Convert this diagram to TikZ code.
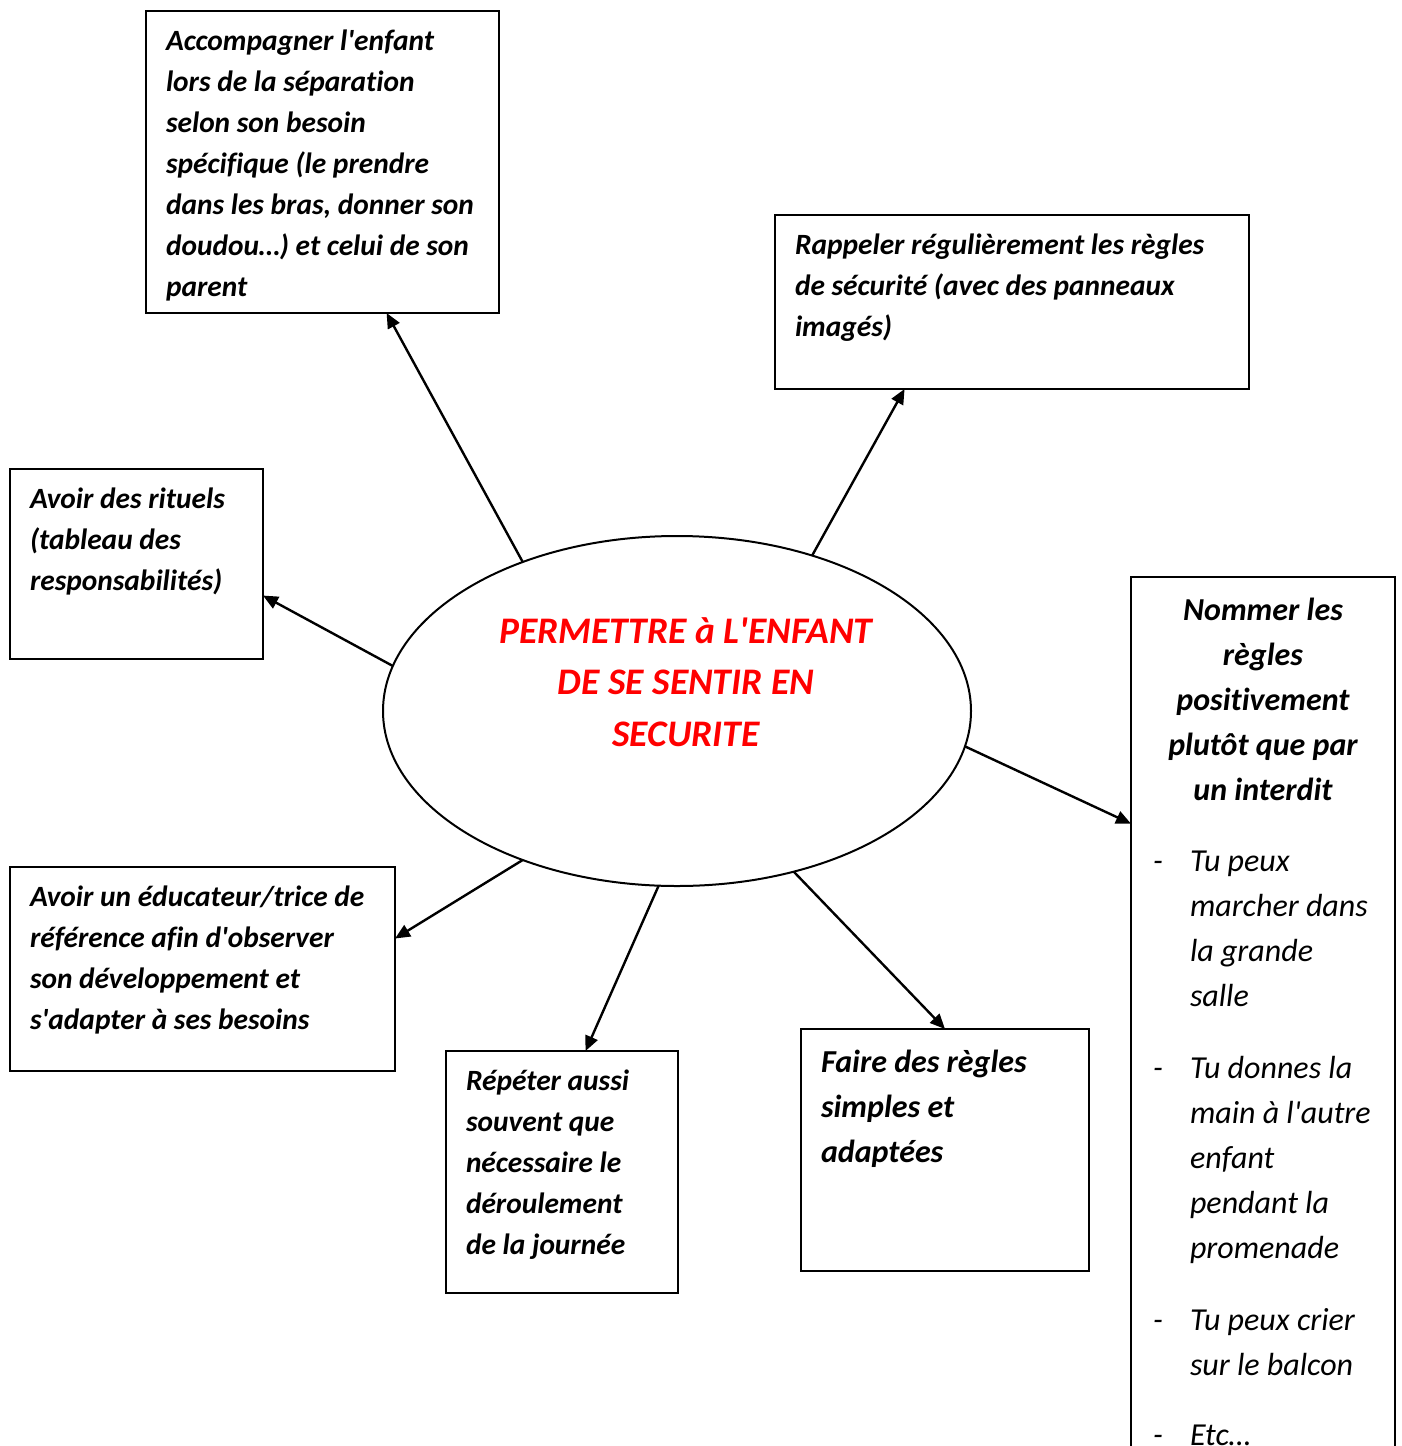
\documentclass[tikz,border=0pt]{standalone}
\usepackage{fontspec}
\setmainfont{Carlito}[Ligatures={TeXOff,NoCommon}]
\usetikzlibrary{arrows.meta, shapes.geometric}
\newcommand{\cadre}[5]{\parbox[t][#2][t]{#1}{\raggedright\baselineskip=#3\rule{0pt}{#4}#5\par}}

\begin{document}
\begin{tikzpicture}[x=1pt, y=-1pt,
		boite/.style={draw, line width=2pt, anchor=north west, inner xsep=20pt, inner ysep=0pt, outer sep=0pt, font=\fontsize{29.4}{41}\selectfont\bfseries\itshape},
		grande/.style={font=\fontsize{32}{45}\selectfont\bfseries\itshape},
		fleche/.style={-{Triangle[length=15pt,width=13pt]}, line width=2.4pt}]
		\useasboundingbox (0,0) rectangle (1402,1446);
		\node[ellipse, draw, line width=2pt, minimum width=588pt, minimum height=350pt, inner sep=0pt, outer sep=0pt] (but) at (677,711) {};
		\node[font=\fontsize{37.5}{51.5}\selectfont\bfseries\itshape, text=red, align=center] (titre) at (686,682) {PERMETTRE à L'ENFANT\\DE SE SENTIR EN\\SECURITE};
		\node[boite] (separation) at (146,11) {\cadre{313pt}{302pt}{41pt}{39pt}{Accompagner l'enfant\\ lors de la séparation\\ selon son besoin\\ spécifique (le prendre\\ dans les bras, donner son\\ doudou…) et celui de son\\ parent}};
		\node[boite] (securite) at (775,215) {\cadre{434pt}{174pt}{41pt}{39pt}{Rappeler régulièrement les règles\\ de sécurité (avec des panneaux\\ imagés)}};
		\node[boite] (rituels) at (10,469) {\cadre{213pt}{190pt}{41pt}{39pt}{Avoir des rituels\\ (tableau des\\ responsabilités)}};
		\node[boite] (reference) at (10,867) {\cadre{345pt}{204pt}{41pt}{39pt}{Avoir un éducateur/trice de\\ référence afin d'observer\\ son développement et\\ s'adapter à ses besoins}};
		\node[boite] (journee) at (446,1051) {\cadre{192pt}{242pt}{41pt}{39pt}{Répéter aussi\\ souvent que\\ nécessaire le\\ déroulement\\ de la journée}};
		\node[boite, grande] (regles) at (801,1029) {\cadre{248pt}{242pt}{45pt}{43pt}{Faire des règles\\ simples et\\ adaptées}};
		\node[boite, grande] (positif) at (1131,577) {\cadre{224pt}{900pt}{45pt}{43pt}{{\centering Nommer les\\ règles\\ positivement\\ plutôt que par\\ un interdit\par}
			\vspace{26pt}\mdseries
			\makebox[39pt][l]{\hspace{2pt}-}Tu peux\\ \hspace*{39pt}marcher dans\\ \hspace*{39pt}la grande\\ \hspace*{39pt}salle\\[27pt]
			\makebox[39pt][l]{\hspace{2pt}-}Tu donnes la\\ \hspace*{39pt}main à l'autre\\ \hspace*{39pt}enfant\\ \hspace*{39pt}pendant la\\ \hspace*{39pt}promenade\\[27pt]
			\makebox[39pt][l]{\hspace{2pt}-}Tu peux crier\\ \hspace*{39pt}sur le balcon\\[25pt]
			\makebox[39pt][l]{\hspace{2pt}-}Etc…}};
		\draw[fleche] (but.136.7) -- (separation.-67.5);
		\draw[fleche] (but.49) -- (securite.219.2);
		\draw[fleche] (but.171.2) -- (rituels.-14.5);
		\draw[fleche] (but.-7.5) -- (positif.123);
		\draw[fleche] (but.224.8) -- (reference.9.4);
		\draw[fleche] (but.264.9) -- (journee.79.3);
		\draw[fleche] (but.306.5) -- (regles.90);
	\end{tikzpicture}
\end{document}
